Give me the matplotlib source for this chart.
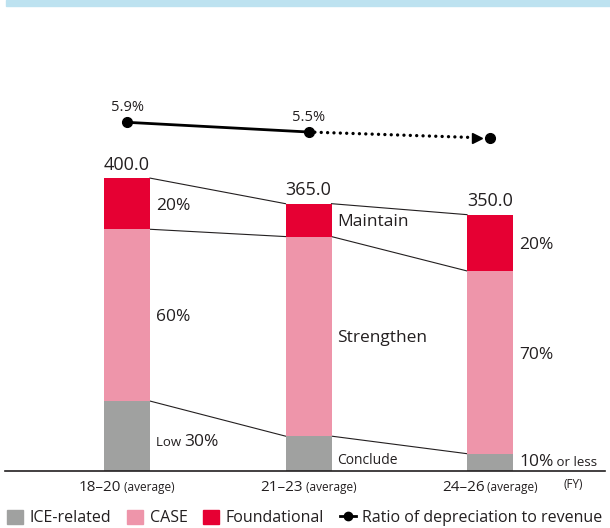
import matplotlib
matplotlib.use("Agg")
import matplotlib.pyplot as plt
from matplotlib.patches import Patch, Rectangle
from matplotlib.lines import Line2D

plt.rcParams['font.family'] = ['Open Sans', 'DejaVu Sans']

# ---- data ----
periods = ["18–20", "21–23", "24–26"]
period_suffix = "(average)"
ice = [95, 47, 23]
case = [235, 273, 250]
foundational = [70, 45, 77]
totals = [400.0, 365.0, 350.0]
ratio = [5.9, 5.5, 5.25]
ratio_labels = ["5.9%", "5.5%", ""]
found_labels = [("", "20%"), ("", "Maintain"), ("", "20%")]
case_labels = [("", "60%"), ("", "Strengthen"), ("", "70%")]
ice_labels = [("Low ", "30%", ""), ("", "Conclude", ""), ("", "10%", " or less")]
legend_labels = ["ICE-related", "CASE", "Foundational", "Ratio of depreciation to revenue"]

C_ICE = "#a0a1a0"
C_CASE = "#ee95aa"
C_FOUND = "#e60033"
C_TXT = "#231f20"

W, H = 610, 528
fig = plt.figure(figsize=(W / 100, H / 100), dpi=100)

# top band
fig.patches.append(Rectangle((6 / W, 1 - 6 / H), 1 - 6 / W, 6 / H, transform=fig.transFigure,
                             color="#bde2f0", zorder=0))

# main axes: baseline at 470.5 px, spans x 5..605 px
px_per_unit_x = 181.5
px_per_unit_y = 0.731
ax_left, ax_right = 5, 605
ax_bottom, ax_top = 470.5, 60
ax = fig.add_axes([ax_left / W, 1 - ax_bottom / H, (ax_right - ax_left) / W, (ax_bottom - ax_top) / H])
x0 = -(127 - ax_left) / px_per_unit_x
x1 = 2 + (ax_right - 490) / px_per_unit_x
ax.set_xlim(x0, x1)
ax.set_ylim(0, (ax_bottom - ax_top) / px_per_unit_y)
for s in ["top", "right", "left"]:
    ax.spines[s].set_visible(False)
ax.spines["bottom"].set_color(C_TXT)
ax.spines["bottom"].set_linewidth(1.2)
ax.set_yticks([])
ax.set_xticks([])

xs = list(range(len(periods)))
bw = 46 / px_per_unit_x
bottom2 = [a + b for a, b in zip(ice, case)]
ax.bar(xs, ice, width=bw, color=C_ICE, zorder=2)
ax.bar(xs, case, width=bw, bottom=ice, color=C_CASE, zorder=2)
ax.bar(xs, foundational, width=bw, bottom=bottom2, color=C_FOUND, zorder=2)

# connector lines
tops = [a + b + c for a, b, c in zip(ice, case, foundational)]
for i in range(len(xs) - 1):
    for lev in (tops, bottom2, ice):
        ax.plot([xs[i] + bw / 2, xs[i + 1] - bw / 2], [lev[i], lev[i + 1]], color=C_TXT, lw=0.8, zorder=1)

fs_big = 12.5
fs_small = 9.5

def draw_now():
    fig.canvas.draw()

def mixed(x, y, parts, sizes):
    """place adjacent text parts with shared baseline starting at data x"""
    draw_now()
    r = fig.canvas.get_renderer()
    cur = ax.transData.transform((x, y))
    for p, s in zip(parts, sizes):
        if not p:
            continue
        t = ax.text(cur[0], cur[1], p, fontsize=s, color=C_TXT, va="baseline", ha="left",
                    transform=None)
        bb = t.get_window_extent(renderer=r)
        cur = (bb.x1, cur[1])

# value labels
for i, v in enumerate(totals):
    ax.text(xs[i], tops[i] + 6, f"{v:.1f}", ha="center", va="bottom", fontsize=13, color=C_TXT)

lab_dx = bw / 2 + 6 / px_per_unit_x
base_off = -8  # baseline below center (data units)
for i in range(3):
    yc = bottom2[i] + foundational[i] / 2
    mixed(xs[i] + lab_dx, yc + base_off, found_labels[i], [fs_small, fs_big])
    yc = ice[i] + case[i] / 2
    if i == 2:
        yc += 12
    mixed(xs[i] + lab_dx, yc + base_off, case_labels[i], [fs_small, fs_big])
ice_y = [(470.5 - 440) / px_per_unit_y, (470.5 - 458) / px_per_unit_y, (470.5 - 460) / px_per_unit_y]
ice_sizes = [[fs_small, fs_big, fs_small], [fs_small, 10, fs_small], [fs_small, fs_big, fs_small]]
for i in range(3):
    mixed(xs[i] + lab_dx, ice_y[i] + base_off, ice_labels[i], ice_sizes[i])

# ratio line on twin axes
ax2 = ax.twinx()
ax2.set_xlim(x0, x1)
ppct = 24.25
y_top_px = 122.3
lo = 5.9 - (ax_bottom - y_top_px) / ppct
hi = lo + (ax_bottom - ax_top) / ppct
ax2.set_ylim(lo, hi)
ax2.axis("off")
ax2.plot(xs[:2], ratio[:2], color="black", lw=2, marker="o", ms=7, zorder=3)
ax2.plot([xs[2]], [ratio[2]], color="black", marker="o", ms=7, lw=0)
tip_x = xs[2] - 12 / px_per_unit_x
tip_y = ratio[1] + (ratio[2] - ratio[1]) * (tip_x - xs[1])
ax2.plot([xs[1], tip_x], [ratio[1], tip_y], color="black", lw=2.4,
         linestyle=(0, (0.01, 1.9)), dash_capstyle="round")
ax2.plot([tip_x - 0.005], [tip_y], marker=">", color="black", ms=7, lw=0)
for i, l in enumerate(ratio_labels):
    if l:
        ax2.text(xs[i], ratio[i] + 0.3, l, ha="center", va="bottom", fontsize=10.5, color=C_TXT)

# x tick labels
draw_now()
r = fig.canvas.get_renderer()
for i, p in enumerate(periods):
    ymid = 1 - 486 / H
    t1 = fig.text(0, 0, p, fontsize=11, color=C_TXT)
    t2 = fig.text(0, 0, " " + period_suffix, fontsize=8.5, color=C_TXT)
    w1 = t1.get_window_extent(renderer=r).width
    w2 = t2.get_window_extent(renderer=r).width
    cx = ax.transData.transform((xs[i], 0))[0]
    start = cx - (w1 + w2) / 2
    basey = ymid * H - 5
    t1.set_position((start / W, basey / H))
    t1.set_va("baseline")
    t2.set_position(((start + w1) / W, basey / H))
    t2.set_va("baseline")
fig.text(573 / W, 1 - 485 / H, "(FY)", fontsize=8.5, color=C_TXT, ha="center", va="center")

# legend
handles = [Patch(color=C_ICE), Patch(color=C_CASE), Patch(color=C_FOUND),
           Line2D([0], [0], color="black", lw=2, marker="o", ms=6)]
fig.legend(handles, legend_labels, loc="center", bbox_to_anchor=(0.5, 1 - 518 / H), ncol=4,
           frameon=False, fontsize=11.5, handlelength=1.0, handleheight=1.0, handletextpad=0.4,
           columnspacing=1.0, labelcolor=C_TXT)

fig.savefig("out.png", dpi=100)
